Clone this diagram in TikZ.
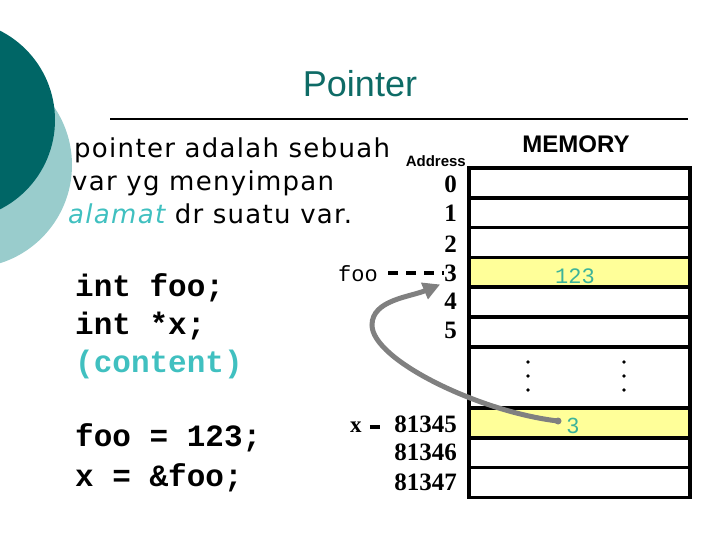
\documentclass[tikz,border=0pt]{standalone}
\usepackage{fontspec}
\usetikzlibrary{arrows.meta}

\newfontfamily\bodyfont[LetterSpace=5]{DejaVu Sans}
\newfontfamily\headfont{Liberation Sans}
\newfontfamily\numfont{Liberation Serif}
\newfontfamily\codefont{Liberation Mono}

\definecolor{darkteal}{HTML}{006666}
\definecolor{lightteal}{HTML}{99CCCC}
\definecolor{titleteal}{HTML}{0E6B66}
\definecolor{hilite}{HTML}{40C0C0}
\definecolor{valgreen}{HTML}{3CB39A}
\definecolor{cellyellow}{HTML}{FFFF99}

\tikzset{
  cell/.style={draw, line width=3.5pt, minimum width=221pt, inner sep=0pt},
  addr/.style={anchor=base east, inner sep=0pt, font=\numfont\bfseries\fontsize{25}{25}\selectfont},
  says/.style={anchor=base west, inner sep=0pt, font=\bodyfont\fontsize{26}{26}\selectfont},
  code/.style={anchor=base west, inner sep=0pt, font=\codefont\bfseries\fontsize{31}{31}\selectfont},
  varname/.style={anchor=base west, inner sep=0pt, font=\codefont\fontsize{22}{22}\selectfont},
  tick/.style={line width=3.8pt},
  ptr/.style={draw=gray, line width=5pt, line cap=round, -{Triangle[length=17pt,width=17pt]}}
}

\begin{document}
\begin{tikzpicture}[x=1pt, y=-1pt]
  \useasboundingbox (0,0) rectangle (720,540);
  \clip (0,0) rectangle (720,540);

  \fill[lightteal] (-31,165) circle [radius=103];
  \fill[darkteal] (-45,120) circle [radius=100];

  \node[anchor=base, inner sep=0pt, text=titleteal, font=\headfont\fontsize{36}{36}\selectfont] (title) at (360,97) {Pointer};
  \draw[line width=2pt] (110,119) -- (688,119);

  \node[says] (def1) at (74,158) {pointer adalah sebuah};
  \node[says] (def2) at (72,191) {var yg menyimpan};
  \node[says] (def3) at (68,224) {{\itshape\color{hilite}alamat} dr suatu var.};

  \node[code] (decl1) at (75,296) {int foo;};
  \node[code] (decl2) at (75,334) {int *x;};
  \node[code, text=hilite] (decl3) at (75,372) {(content)};
  \node[code] (asg1) at (75,446) {foo = 123;};
  \node[code] (asg2) at (75,486) {x = \&foo;};

  \node[anchor=base, inner sep=0pt, font=\headfont\bfseries\fontsize{24}{24}\selectfont] (memlbl) at (576,153) {MEMORY};
  \node[anchor=base east, inner sep=0pt, font=\headfont\bfseries\fontsize{15}{15}\selectfont] (addrlbl) at (466,167) {Address};

  % memory cells
  \foreach \n in {0,...,5}
    \node[cell, minimum height=29.8pt] (c\n) at (579.5,{182.9+29.8*\n}) {};
  \node[cell, fill=cellyellow, minimum height=29.8pt] (c3) at (579.5,272.3) {};
  \node[cell, minimum height=61.2pt] (cdots) at (579.5,377.4) {};
  \node[cell, fill=cellyellow, minimum height=29.8pt] (c81345) at (579.5,422.9) {};
  \node[cell, minimum height=29.8pt] (c81346) at (579.5,452.7) {};
  \node[cell, minimum height=29.8pt] (c81347) at (579.5,482.5) {};

  \foreach \x in {528,624}
    \foreach \y in {362,376,390}
      \fill (\x,\y) circle [radius=1.8];

  \foreach \n/\b in {0/193,1/222,2/252,3/281,4/309,5/338}
    \node[addr] (a\n) at (457,\b) {\n};
  \foreach \n/\b in {81345/432,81346/460,81347/490}
    \node[addr] (a\n) at (457,\b) {\n};

  \node[anchor=base, inner sep=0pt, text=valgreen, font=\codefont\fontsize{22}{22}\selectfont] (val3) at (575,283) {123};
  \node[anchor=base, inner sep=0pt, text=valgreen, font=\headfont\fontsize{22}{22}\selectfont] (val81345) at (573,433) {3};

  \node[varname] (foolbl) at (338,281) {foo};
  \node[anchor=base west, inner sep=0pt, font=\numfont\bfseries\fontsize{23}{23}\selectfont] (xlbl) at (350,432) {x};
  \draw[tick, dash pattern=on 10pt off 8pt, shorten <=10pt, shorten >=0pt]
    (foolbl.east) -- (foolbl.east -| a3.west);
  \draw[tick, shorten <=8pt, shorten >=14pt]
    (xlbl.east) -- (xlbl.east -| a81345.west);

  \coordinate (xdot) at (558,421);
  \fill[gray] (xdot) circle [radius=3.5];
  \draw[ptr] (xdot) .. controls (480,412) and (372,360) .. (372,325)
    .. controls (372,300) and (410,297) .. ([xshift=-4pt,yshift=-3pt]a3.south west);

\end{tikzpicture}
\end{document}
